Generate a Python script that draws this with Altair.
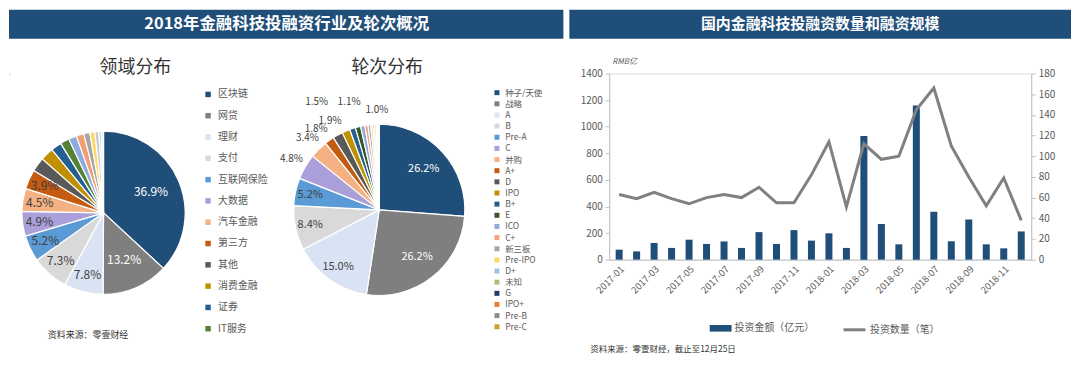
import altair as alt
import pandas as pd

FONT = "Noto Sans CJK SC"

# ---------------- data ----------------
field_cats = ["区块链", "网贷", "理财", "支付", "互联网保险", "大数据", "汽车金融", "第三方",
              "其他", "消费金融", "证券", "IT服务",
              "众筹", "征信", "供应链金融", "智能投顾", "监管科技", "银行科技", "其余"]
field_vals = [36.9, 13.2, 7.8, 7.3, 5.2, 4.9, 4.5, 3.9, 2.8, 2.6, 2.1, 1.8,
              1.6, 1.5, 1.2, 1.0, 0.8, 0.5, 0.4]
field_colors = ["#1f4e79", "#7f7f7f", "#dae3f3", "#d9d9d9", "#5b9bd5", "#ab9fd9", "#f4b183", "#c55a11",
                "#595959", "#bf9000", "#255e91", "#548235",
                "#8faadc", "#f0a070", "#a5a5a5", "#ffd966", "#c9c9c9", "#bdd7ee", "#e2efda"]
field_legend = field_cats[:12]

round_cats = ["种子/天使", "战略", "A", "B", "Pre-A", "C", "并购", "A+", "D", "IPO", "B+", "E",
              "ICO", "C+", "新三板", "Pre-IPO", "D+", "未知", "G", "IPO+", "Pre-B", "Pre-C"]
round_vals = [26.2, 26.2, 15.0, 8.4, 5.2, 4.8, 3.4, 1.8, 1.9, 1.5, 1.1, 1.0,
              0.8, 0.6, 0.5, 0.4, 0.3, 0.3, 0.2, 0.2, 0.1, 0.1]
round_colors = ["#1f4e79", "#7f7f7f", "#dae3f3", "#d9d9d9", "#5b9bd5", "#ab9fd9", "#f4b183", "#c55a11",
                "#595959", "#bf9000", "#255e91", "#375623",
                "#8faadc", "#f4a582", "#a5a5a5", "#ffd966", "#9dc3e6", "#a9c07a", "#203864", "#ed7d31",
                "#8c8c8c", "#c9a227"]

months = ["2017-01", "2017-02", "2017-03", "2017-04", "2017-05", "2017-06",
          "2017-07", "2017-08", "2017-09", "2017-10", "2017-11", "2017-12",
          "2018-01", "2018-02", "2018-03", "2018-04", "2018-05", "2018-06",
          "2018-07", "2018-08", "2018-09", "2018-10", "2018-11", "2018-12"]
amounts = [75, 62, 125, 88, 150, 118, 137, 88, 207, 118, 222, 143,
           198, 88, 930, 268, 115, 1160, 360, 138, 302, 115, 85, 212]
counts = [63, 59, 65, 59, 54, 60, 63, 60, 70, 55, 55, 82,
          114, 51, 112, 97, 100, 145, 166, 110, 80, 52, 79, 38]
series_names = ["投资金额（亿元）", "投资数量（笔）"]

left_title = "2018年金融科技投融资行业及轮次概况"
right_title = "国内金融科技投融资数量和融资规模"
pie1_title = "领域分布"
pie2_title = "轮次分布"
src_left = "资料来源：零壹财经"
src_right = "资料来源：零壹财经，截止至12月25日"
unit_label = "RMB亿"

BANNER = "#1f4e79"
TXT = "#595959"

dummy = pd.DataFrame({"d": [0]})
df1 = pd.DataFrame({"cat": field_cats, "value": field_vals, "idx": list(range(len(field_cats)))})
df2 = pd.DataFrame({"cat": round_cats, "value": round_vals, "idx": list(range(len(round_cats)))})
dfr = pd.DataFrame({"month": months, "amount": amounts, "count": counts,
                    "s1": [series_names[0]] * len(months), "s2": [series_names[1]] * len(months)})

# both views have their origin at page y = 72; the left panel draws upward from there
OY = -64


def deco_text(text, x, y, size, color="#333333", weight="normal", align="center", style="normal"):
    return alt.Chart(dummy).mark_text(text=text, font=FONT, fontSize=size, color=color,
                                      fontWeight=weight, align=align, baseline="middle",
                                      fontStyle=style).encode(x=alt.value(x), y=alt.value(y))


def deco_rect(x, x2, y, y2, color):
    return alt.Chart(dummy).mark_rect(color=color).encode(
        x=alt.value(x), x2=alt.value(x2), y=alt.value(y), y2=alt.value(y2))


def pie_arc(df, cats, colors, cx, cy, R, legend):
    return alt.Chart(df).mark_arc(radius=R, stroke="white", strokeWidth=1.2).encode(
        theta=alt.Theta("value:Q", stack=True),
        order=alt.Order("idx:Q", sort="ascending"),
        color=alt.Color("cat:N", scale=alt.Scale(domain=cats, range=colors), legend=legend),
        x=alt.value(cx), y=alt.value(cy))


def pie_label(df, cond, cx, cy, r, size, dx=0, dy=0):
    return alt.Chart(df).transform_calculate(
        label=f"({cond}) ? format(datum.value, '.1f') + '%' : ''"
    ).mark_text(radius=r, fontSize=size, font=FONT, dx=dx, dy=dy).encode(
        theta=alt.Theta("value:Q", stack=True),
        order=alt.Order("idx:Q", sort="ascending"),
        text="label:N",
        color=alt.condition("datum.idx <= 1", alt.value("white"), alt.value("#404040")),
        x=alt.value(cx), y=alt.value(cy))


# ---------------- left panel ----------------
C1 = (95, 204 + OY); R1 = 82
C2 = (372, 201 + OY); R2 = 86

leg1 = alt.Legend(orient="none", legendX=195, legendY=16, values=field_legend, title=None,
                  symbolType="square", symbolSize=30, labelFontSize=10, labelColor=TXT,
                  labelFont=FONT, rowPadding=11.4, labelOffset=5, padding=0, symbolStrokeWidth=0)
leg2 = alt.Legend(orient="none", legendX=486, legendY=15, values=round_cats, title=None,
                  symbolType="square", symbolSize=25, labelFontSize=8.5, labelColor=TXT,
                  labelFont=FONT, rowPadding=2.2, labelOffset=4, padding=0, symbolStrokeWidth=0)

left = alt.layer(
    deco_rect(0, 557, OY, OY + 29, BANNER),
    deco_text(left_title, 279, OY + 14, 16.5, color="white", weight="bold"),
    deco_text(pie1_title, 127, OY + 58, 18),
    deco_text(pie2_title, 380, OY + 58, 18),
    pie_arc(df1, field_cats, field_colors, C1[0], C1[1], R1, leg1),
    pie_label(df1, "datum.idx <= 1", C1[0], C1[1], 52, 12),
    pie_label(df1, "datum.idx >= 2 && datum.idx <= 7", C1[0], C1[1], 65, 12),
    pie_arc(df2, round_cats, round_colors, C2[0], C2[1], R2, leg2),
    pie_label(df2, "datum.idx <= 1", C2[0], C2[1], 61, 11),
    pie_label(df2, "datum.idx >= 2 && datum.idx <= 4", C2[0], C2[1], 71, 11),
    pie_label(df2, "datum.idx == 5 || datum.idx == 6 || datum.idx == 8", C2[0], C2[1], 102, 10),
    pie_label(df2, "datum.idx == 7", C2[0], C2[1], 102, 10, dx=-4, dy=2),
    pie_label(df2, "datum.idx == 9", C2[0], C2[1], 118, 10, dx=-17),
    pie_label(df2, "datum.idx == 10", C2[0], C2[1], 110, 10, dx=4, dy=-4),
    pie_label(df2, "datum.idx == 11", C2[0], C2[1], 102, 10, dx=23, dy=-2),
    deco_text(src_left, 39, OY + 327, 9, color="#333333", align="left"),
).resolve_scale(theta="independent", color="independent").properties(width=1, height=1)

# ---------------- right panel ----------------
xenc = alt.X("month:O", sort=months,
             scale=alt.Scale(paddingInner=0.6, paddingOuter=0.37),
             axis=alt.Axis(values=months[::2], labelAngle=-45, title=None, ticks=False,
                           labelFontSize=9.5, labelColor=TXT, labelFont=FONT,
                           domainColor="#bfbfbf", labelPadding=4, grid=False))

# legends sit in the top-level group, whose origin is at page (8, 72)
bar_leg = alt.Legend(orient="none", legendX=704, legendY=245, title=None,
                     symbolType="M-1,-0.3H1V0.3H-1Z", symbolSize=484, labelFontSize=10,
                     labelColor=TXT, labelFont=FONT, padding=0, labelOffset=3, symbolStrokeWidth=0)
line_leg = alt.Legend(orient="none", legendX=837, legendY=245, title=None,
                      symbolType="stroke", symbolSize=484, symbolStrokeWidth=3, labelFontSize=10,
                      labelColor=TXT, labelFont=FONT, padding=0, labelOffset=3)

bars = alt.Chart(dfr).mark_bar().encode(
    x=xenc,
    y=alt.Y("amount:Q", scale=alt.Scale(domain=[0, 1400]),
            axis=alt.Axis(orient="left", values=list(range(0, 1401, 200)), format="d", title=None,
                          grid=False, labelFontSize=10, labelColor=TXT, labelFont=FONT,
                          domainColor="#bfbfbf", tickColor="#bfbfbf", tickSize=4, labelPadding=3)),
    color=alt.Color("s1:N", scale=alt.Scale(domain=[series_names[0]], range=[BANNER]), legend=bar_leg),
)

line = alt.Chart(dfr).mark_line(strokeWidth=3).encode(
    x=xenc,
    y=alt.Y("count:Q", scale=alt.Scale(domain=[0, 180]),
            axis=alt.Axis(orient="right", values=list(range(0, 181, 20)), format="d", title=None,
                          grid=False, labelFontSize=10, labelColor=TXT, labelFont=FONT,
                          domainColor="#bfbfbf", tickColor="#bfbfbf", tickSize=4, labelPadding=3)),
    stroke=alt.Stroke("s2:N", scale=alt.Scale(domain=[series_names[1]], range=["#808080"]), legend=line_leg),
)

right = alt.layer(
    deco_rect(-40, 464, -64, -35, BANNER),
    deco_text(right_title, 212, -50, 15, color="white", weight="bold"),
    bars,
    line,
    deco_text(unit_label, 3, -12, 8, color=TXT, align="left", style="italic"),
    deco_text(src_right, -19, 277, 8.5, color="#333333", align="left"),
).resolve_scale(y="independent").properties(width=424, height=187)

chart = (alt.hconcat(left, right, spacing=4, padding=0)
         .configure_view(strokeWidth=0, stroke="transparent", fill="transparent")
         .configure(font=FONT))

chart.save("out.html", embed_options={"renderer": "svg", "actions": False})
